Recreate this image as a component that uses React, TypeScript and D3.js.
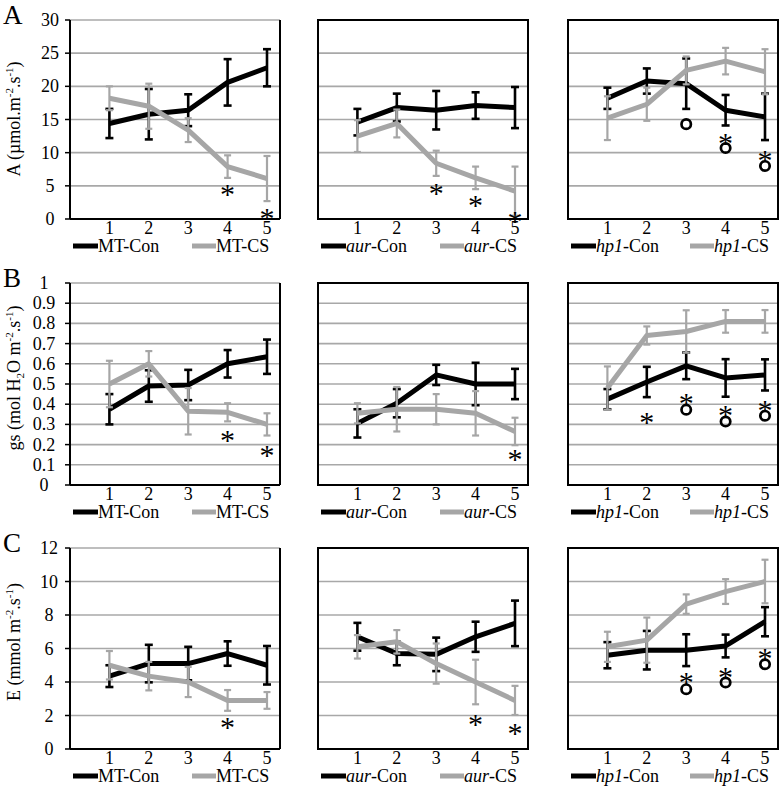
import React from "react";
import * as d3 from "d3";

const xCats = [1, 2, 3, 4, 5];
const genotypes = ["MT", "aur", "hp1"];
const genoItalic = [false, true, true];

// Row A: net photosynthesis A
const aTicks = [0, 5, 10, 15, 20, 25, 30];
const aMTCon = [14.4, 15.8, 16.4, 20.6, 22.8];
const aMTConErr = [2.2, 3.8, 2.4, 3.5, 2.8];
const aMTCS = [18.2, 17.0, 13.4, 7.9, 6.1];
const aMTCSErr = [1.8, 3.4, 1.8, 1.7, 3.4];
const aAurCon = [14.6, 16.8, 16.4, 17.1, 16.8];
const aAurConErr = [2.0, 2.1, 2.9, 2.0, 3.1];
const aAurCS = [12.5, 14.4, 8.4, 6.2, 4.2];
const aAurCSErr = [2.4, 2.1, 1.9, 1.7, 3.7];
const aHp1Con = [18.2, 20.8, 20.4, 16.4, 15.4];
const aHp1ConErr = [1.6, 1.9, 3.8, 2.3, 3.5];
const aHp1CS = [15.2, 17.3, 22.4, 23.8, 22.2];
const aHp1CSErr = [3.3, 2.5, 2.1, 2.0, 3.4];

// Row B: stomatal conductance gs
const bTicks = [0, 0.1, 0.2, 0.3, 0.4, 0.5, 0.6, 0.7, 0.8, 0.9, 1];
const bMTCon = [0.375, 0.49, 0.495, 0.6, 0.635];
const bMTConErr = [0.075, 0.078, 0.075, 0.068, 0.085];
const bMTCS = [0.5, 0.6, 0.365, 0.36, 0.3];
const bMTCSErr = [0.115, 0.063, 0.115, 0.045, 0.055];
const bAurCon = [0.305, 0.405, 0.545, 0.5, 0.5];
const bAurConErr = [0.07, 0.07, 0.05, 0.105, 0.075];
const bAurCS = [0.355, 0.375, 0.375, 0.355, 0.265];
const bAurCSErr = [0.05, 0.11, 0.075, 0.11, 0.068];
const bHp1Con = [0.425, 0.51, 0.59, 0.53, 0.545];
const bHp1ConErr = [0.05, 0.075, 0.066, 0.093, 0.077];
const bHp1CS = [0.48, 0.74, 0.76, 0.81, 0.81];
const bHp1CSErr = [0.107, 0.045, 0.105, 0.056, 0.056];

// Row C: transpiration E
const cTicks = [0, 2, 4, 6, 8, 10, 12];
const cMTCon = [4.35, 5.1, 5.1, 5.7, 5.0];
const cMTConErr = [0.65, 1.12, 1.0, 0.73, 1.15];
const cMTCS = [5.0, 4.35, 4.0, 2.9, 2.9];
const cMTCSErr = [0.85, 0.85, 0.9, 0.62, 0.5];
const cAurCon = [6.7, 5.7, 5.65, 6.7, 7.5];
const cAurConErr = [0.83, 0.7, 1.0, 0.9, 1.36];
const cAurCS = [6.1, 6.4, 5.1, 4.0, 2.9];
const cAurCSErr = [0.7, 0.7, 1.2, 1.33, 0.87];
const cHp1Con = [5.6, 5.9, 5.9, 6.15, 7.6];
const cHp1ConErr = [0.78, 1.15, 0.95, 0.68, 0.87];
const cHp1CS = [6.1, 6.5, 8.65, 9.4, 10.0];
const cHp1CSErr = [0.9, 1.35, 0.58, 0.74, 1.3];

// significance markers: [x, y]
const aStars = [[[4, 4.6], [5, 1.1]], [[3, 4.75], [4, 3.0], [5, 0.6]], [[4, 12.4], [5, 9.8]]];
const aCircles = [[], [], [[3, 14.3], [4, 10.7], [5, 8.0]]];
const bStars = [[[4, 0.252], [5, 0.178]], [[5, 0.157]], [[2, 0.343], [3, 0.434], [4, 0.376], [5, 0.401]]];
const bCircles = [[], [], [[3, 0.373], [4, 0.314], [5, 0.343]]];
const cStars = [[[4, 1.65]], [[4, 1.84], [5, 1.3]], [[3, 4.37], [4, 4.68], [5, 5.81]]];
const cCircles = [[], [], [[3, 3.57], [4, 3.97], [5, 5.06]]];

const GRAY = "#a6a6a6";
const GRID = "#a8a8a8";
const FONT = "'Liberation Serif', 'Times New Roman', serif";

const panelLefts = [70, 318, 568];
const PW = 210;

type Row = {
  top: number;
  bottom: number;
  ticks: number[];
  labelX: number;
  con: number[][];
  conErr: number[][];
  cs: number[][];
  csErr: number[][];
  stars: number[][][];
  circles: number[][][];
  letter: string;
  titleY: number;
};

const rows: Row[] = [
  {
    top: 20, bottom: 219, ticks: aTicks, labelX: 50,
    con: [aMTCon, aAurCon, aHp1Con], conErr: [aMTConErr, aAurConErr, aHp1ConErr],
    cs: [aMTCS, aAurCS, aHp1CS], csErr: [aMTCSErr, aAurCSErr, aHp1CSErr],
    stars: aStars, circles: aCircles, letter: "A", titleY: 119,
  },
  {
    top: 283, bottom: 485, ticks: bTicks, labelX: 44,
    con: [bMTCon, bAurCon, bHp1Con], conErr: [bMTConErr, bAurConErr, bHp1ConErr],
    cs: [bMTCS, bAurCS, bHp1CS], csErr: [bMTCSErr, bAurCSErr, bHp1CSErr],
    stars: bStars, circles: bCircles, letter: "B", titleY: 378,
  },
  {
    top: 548, bottom: 749, ticks: cTicks, labelX: 49,
    con: [cMTCon, cAurCon, cHp1Con], conErr: [cMTConErr, cAurConErr, cHp1ConErr],
    cs: [cMTCS, cAurCS, cHp1CS], csErr: [cMTCSErr, cAurCSErr, cHp1CSErr],
    stars: cStars, circles: cCircles, letter: "C", titleY: 642,
  },
];

function Series({ vals, errs, x, y, color, ew, cap, lw }: any) {
  const line = d3.line<number>().x((_, i) => x(xCats[i])).y((v) => y(v));
  return (
    <g>
      <path d={line(vals) || ""} fill="none" stroke={color} strokeWidth={lw} strokeLinejoin="round" />
      {vals.map((v: number, i: number) => {
        const cx = x(xCats[i]);
        const y1 = y(v + errs[i]);
        const y2 = y(v - errs[i]);
        return (
          <g key={i} stroke={color} strokeWidth={ew}>
            <line x1={cx} x2={cx} y1={y1} y2={y2} />
            <line x1={cx - cap} x2={cx + cap} y1={y1} y2={y1} />
            <line x1={cx - cap} x2={cx + cap} y1={y2} y2={y2} />
          </g>
        );
      })}
    </g>
  );
}

function Panel({ row, pi }: { row: Row; pi: number }) {
  const left = panelLefts[pi];
  const x = d3.scaleLinear().domain([0, 5.33]).range([left, left + PW]);
  const maxV = row.ticks[row.ticks.length - 1];
  const y = d3.scaleLinear().domain([0, maxV]).range([row.bottom, row.top]);
  const gridTicks = pi === 0 ? row.ticks.slice(1) : row.ticks.slice(1, -1);
  const g = genotypes[pi];
  const it = genoItalic[pi];
  const legY = row.bottom + 27;
  return (
    <g>
      {gridTicks.map((t) => (
        <line key={t} x1={left} x2={left + PW} y1={y(t)} y2={y(t)} stroke={GRID} strokeWidth={1.6} />
      ))}
      {pi === 0 ? (
        <g>
          <line x1={left} x2={left} y1={row.top} y2={row.bottom} stroke="#000" strokeWidth={2} />
          <line x1={left + PW} x2={left + PW} y1={row.top} y2={row.bottom} stroke="#000" strokeWidth={2} />
          <line x1={left} x2={left + PW} y1={row.bottom} y2={row.bottom} stroke="#000" strokeWidth={2} />
          {row.ticks.map((t) => (
            <g key={t}>
              <line x1={left - 5} x2={left} y1={y(t)} y2={y(t)} stroke="#000" strokeWidth={1.5} />
              <text x={row.labelX} y={y(t) + 6} textAnchor="middle" fontSize={18} fontFamily={FONT}>
                {String(t)}
              </text>
            </g>
          ))}
        </g>
      ) : (
        <rect x={left} y={row.top} width={PW} height={row.bottom - row.top} fill="none" stroke="#000" strokeWidth={2} />
      )}
      {xCats.map((c) => (
        <text key={c} x={x(c)} y={row.bottom + 15} textAnchor="middle" fontSize={18} fontFamily={FONT}>
          {c}
        </text>
      ))}
      <Series vals={row.con[pi]} errs={row.conErr[pi]} x={x} y={y} color="#000" ew={2.6} cap={4} lw={5} />
      <Series vals={row.cs[pi]} errs={row.csErr[pi]} x={x} y={y} color={GRAY} ew={2.2} cap={3.5} lw={5} />
      {row.stars[pi].map(([sx, sy], i) => (
        <text key={"s" + i} x={x(sx)} y={y(sy) + 16} textAnchor="middle" fontSize={30} fontFamily={FONT}>
          *
        </text>
      ))}
      {row.circles[pi].map(([sx, sy], i) => (
        <circle key={"c" + i} cx={x(sx)} cy={y(sy)} r={4.7} fill="none" stroke="#000" strokeWidth={2.7} />
      ))}
      {/* legend */}
      <line x1={left + 3} x2={left + 28} y1={legY} y2={legY} stroke="#000" strokeWidth={5} />
      <text x={left + 28} y={legY + 6} fontSize={18} fontFamily={FONT}>
        <tspan fontStyle={it ? "italic" : "normal"}>{g}</tspan>
        <tspan>-Con</tspan>
      </text>
      <line x1={left + 122} x2={left + 146} y1={legY} y2={legY} stroke={GRAY} strokeWidth={5} />
      <text x={left + 146} y={legY + 6} fontSize={18} fontFamily={FONT}>
        <tspan fontStyle={it ? "italic" : "normal"}>{g}</tspan>
        <tspan>-CS</tspan>
      </text>
    </g>
  );
}

const titleParts = [
  [["A (µmol.m", 0], ["-2", 1], [".s", 0], ["-1", 1], [")", 0]],
  [["gs (mol H", 0], ["2", 2], ["O m", 0], ["-2", 1], [".s", 0], ["-1", 1], [")", 0]],
  [["E (mmol m", 0], ["-2", 1], [".s", 0], ["-1", 1], [")", 0]],
];

function Title({ ri, cy }: { ri: number; cy: number }) {
  const parts = titleParts[ri] as [string, number][];
  let shift = 0;
  return (
    <text transform={`translate(20,${cy}) rotate(-90)`} textAnchor="middle" fontSize={18} fontFamily={FONT}>
      {parts.map(([s, kind], i) => {
        const target = kind === 1 ? -7 : kind === 2 ? 4 : 0;
        const dy = target - shift;
        shift = target;
        return (
          <tspan key={i} dy={dy} fontSize={kind ? 11 : 18}>
            {s}
          </tspan>
        );
      })}
    </text>
  );
}

export default function App() {
  return (
    <svg width={782} height={793} style={{ position: "absolute", left: 0, top: 0, background: "#fff" }}>
      <rect x={0} y={0} width={782} height={793} fill="#fff" />
      {rows.map((row, ri) => (
        <g key={ri}>
          <text x={3} y={row.top + 4} fontSize={27} fontFamily={FONT}>
            {row.letter}
          </text>
          <Title ri={ri} cy={row.titleY} />
          {[0, 1, 2].map((pi) => (
            <Panel key={pi} row={row} pi={pi} />
          ))}
        </g>
      ))}
    </svg>
  );
}
